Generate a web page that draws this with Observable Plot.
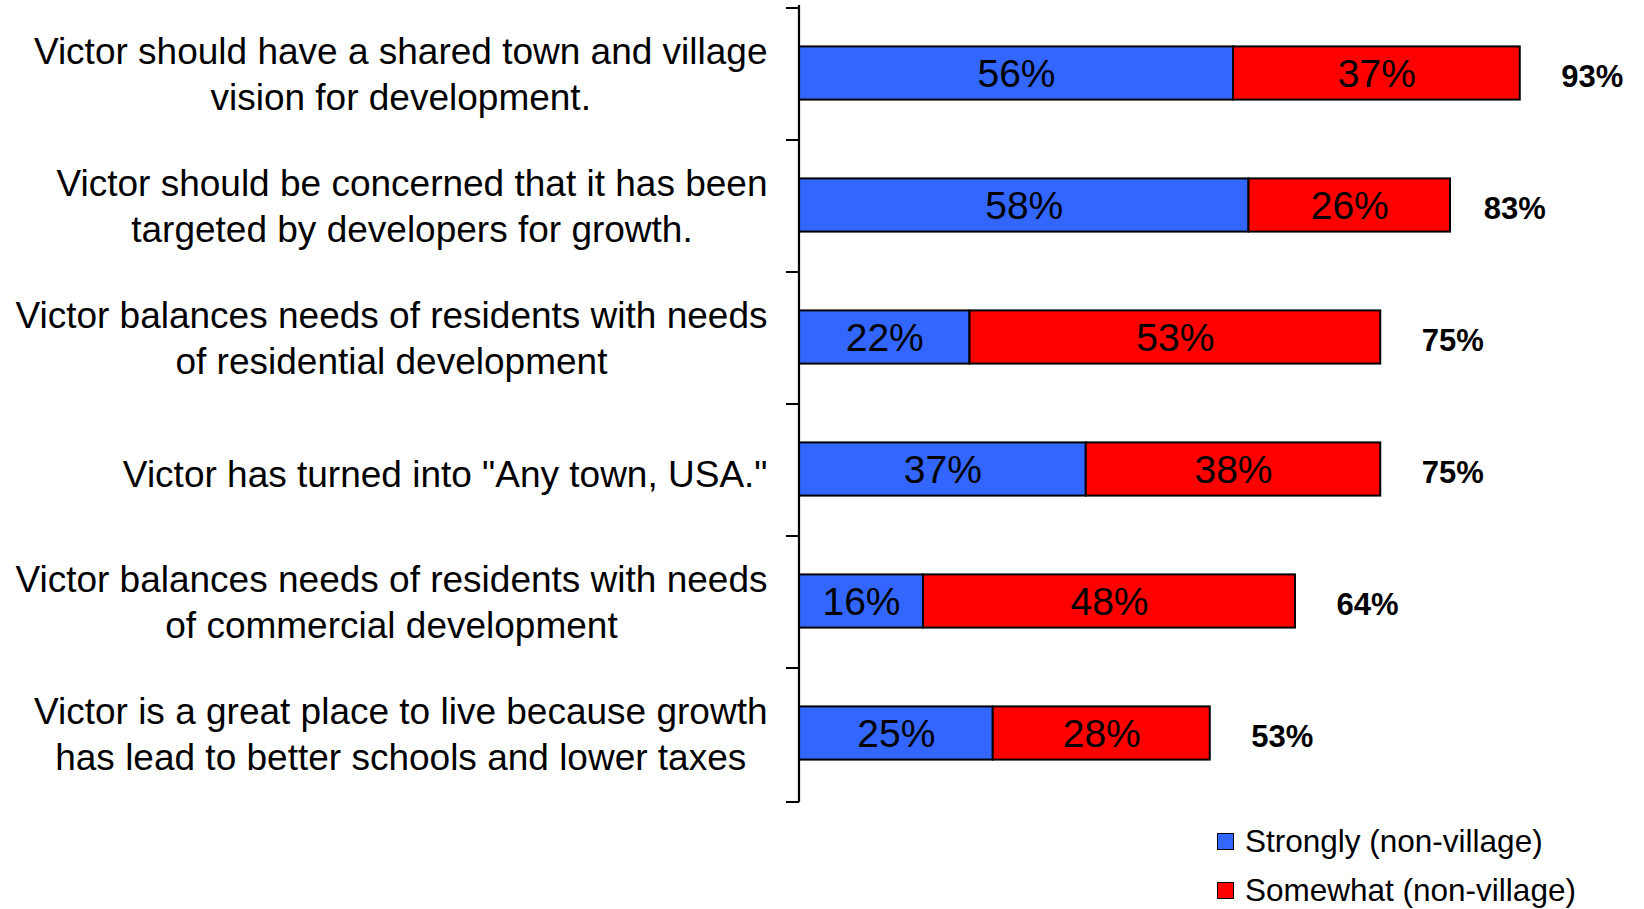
<!DOCTYPE html>
<html>
<head>
<meta charset="utf-8">
<script src="https://cdn.jsdelivr.net/npm/d3@7"></script>
<script src="https://cdn.jsdelivr.net/npm/@observablehq/plot@0.6"></script>
<style>
  html, body { margin: 0; padding: 0; background: #fff; overflow: hidden; }
  body { width: 1644px; height: 909px; font-family: "Liberation Sans", Arial, sans-serif; }
  #legend { margin-left: 1217px; margin-top: 5px; }
  .item { display: flex; align-items: center; height: 49px; font-size: 31.5px; color: #000; }
  .sw { width: 15px; height: 15px; border: 1.5px solid #000; margin-right: 11px; box-sizing: content-box; }
</style>
</head>
<body>
<div id="chart"></div>
<div id="legend"></div>
<script>
const categories = [
  "Victor should have a shared town and village\nvision for development.",
  "Victor should be concerned that it has been\ntargeted by developers for growth.",
  "Victor balances needs of residents with needs\nof residential development",
  "Victor has turned into \"Any town, USA.\"",
  "Victor balances needs of residents with needs\nof commercial development",
  "Victor is a great place to live because growth\nhas lead to better schools and lower taxes"
];
const seriesNames = ["Strongly (non-village)", "Somewhat (non-village)"];
const strongly = [56, 58, 22, 37, 16, 25];
const somewhat = [37, 26, 53, 38, 48, 28];
const totals = [93, 83, 75, 75, 64, 53];
const seriesColors = ["#3366FF", "#FF0000"];

const rows = [];
categories.forEach((c, i) => {
  rows.push({cat: c, series: seriesNames[0], value: strongly[i]});
  rows.push({cat: c, series: seriesNames[1], value: somewhat[i]});
});
const totalRows = categories.map((c, i) => ({cat: c, total: totals[i]}));

const FONT = "'Liberation Sans', Arial, sans-serif";
const labelSize = 37;
const canvas = document.createElement("canvas");
const ctx = canvas.getContext("2d");
ctx.font = `${labelSize}px ${FONT}`;
const labelGap = 32;

const W = 1644, H = 812, MT = 5, MB = 10;
const bandPx = (H - MT - MB) / categories.length;
const barPx = 54;
const barShift = 1;

const labelMarks = categories.map((c) => {
  const lines = c.split("\n");
  const w = Math.max(...lines.map(l => ctx.measureText(l).width));
  return Plot.text([c], {
    x: () => 0, y: d => d, text: d => d,
    dx: -(labelGap + w / 2), dy: lines.length > 1 ? -2 : 2,
    textAnchor: "middle", lineAnchor: "middle", lineHeight: 1.25,
    fontSize: labelSize, fill: "#000"
  });
});

const ticksMark = (index, scales, values, dims) => {
  const y = scales.y;
  const x0 = scales.x(0);
  const bottom = dims.height - dims.marginBottom;
  const edges = categories.map(c => y(c)).concat([bottom]);
  const g = d3.create("svg:g");
  g.append("line").attr("x1", x0).attr("x2", x0).attr("y1", dims.marginTop).attr("y2", bottom)
    .attr("stroke", "#000").attr("stroke-width", 2.2);
  g.selectAll("line.t").data(edges).join("line").attr("class", "t")
    .attr("x1", x0 - 13).attr("x2", x0).attr("y1", d => d).attr("y2", d => d)
    .attr("stroke", "#000").attr("stroke-width", 2);
  return g.node();
};

const chart = Plot.plot({
  width: W,
  height: H,
  marginTop: MT,
  marginBottom: MB,
  marginLeft: 799,
  marginRight: 70,
  style: {fontFamily: FONT, background: "#fff", overflow: "visible"},
  x: {domain: [0, 100], axis: null},
  y: {domain: categories, padding: 0, axis: null},
  color: {domain: seriesNames, range: seriesColors},
  marks: [
    Plot.barX(rows, {
      x: "value", y: "cat", fill: "series",
      stroke: "#000", strokeWidth: 2,
      insetTop: (bandPx - barPx) / 2 - barShift, insetBottom: (bandPx - barPx) / 2 + barShift
    }),
    Plot.text(rows, Plot.stackX({
      x: "value", y: "cat", z: "series",
      text: d => d.value + "%", fontSize: 39, fill: "#000", dy: 0
    })),
    Plot.text(totalRows, {
      x: "total", y: "cat", text: d => d.total + "%",
      dx: 41, dy: 3, textAnchor: "start", fontWeight: "bold", fontSize: 31, fill: "#000"
    }),
    ...labelMarks,
    ticksMark
  ]
});
document.getElementById("chart").appendChild(chart);

const legend = document.getElementById("legend");
seriesNames.forEach((s, i) => {
  const item = document.createElement("div");
  item.className = "item";
  const sw = document.createElement("span");
  sw.className = "sw";
  sw.style.background = seriesColors[i];
  const t = document.createElement("span");
  t.textContent = s;
  item.appendChild(sw); item.appendChild(t);
  legend.appendChild(item);
});
</script>
</body>
</html>
